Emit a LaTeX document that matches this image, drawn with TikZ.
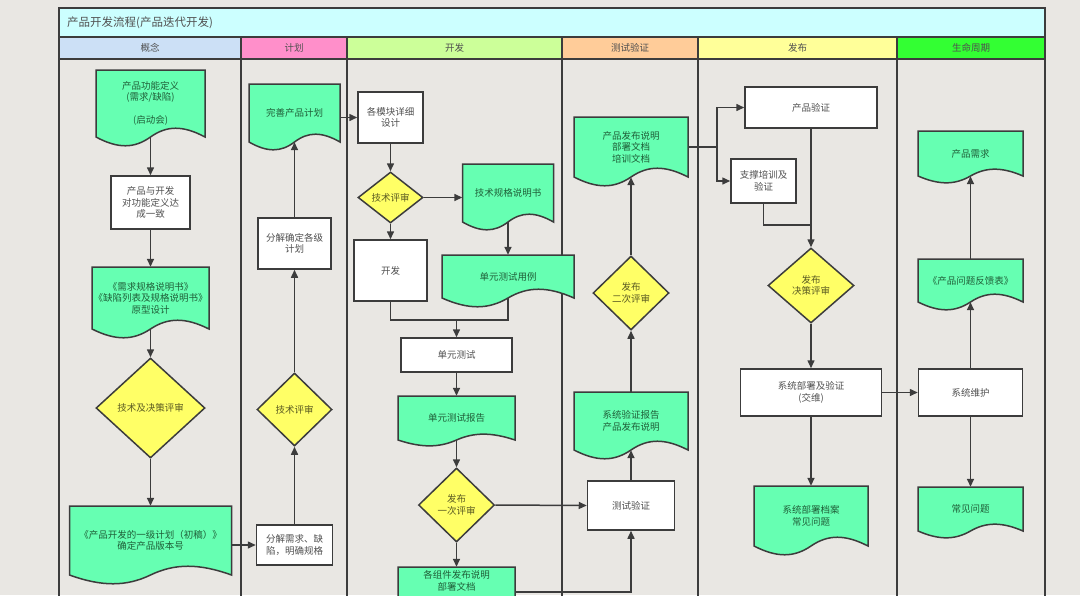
\documentclass[tikz,border=0pt]{standalone}
\usepackage{fontspec}
\setmainfont{Noto Sans CJK SC}
\usetikzlibrary{arrows.meta,shapes.geometric,calc}
\definecolor{bgc}{HTML}{E9E7E3}
\definecolor{linec}{HTML}{3C3C3C}
\definecolor{docfillc}{HTML}{66FFB2}
\definecolor{dmfillc}{HTML}{FFFF66}
\definecolor{doctxt}{HTML}{1F5F38}
\definecolor{boxtxt}{HTML}{505050}
\definecolor{dmtxt}{HTML}{5A5A22}
\definecolor{titlec}{HTML}{CCFFFF}
\definecolor{hblue}{HTML}{CCE0F6}
\definecolor{hpink}{HTML}{FF8FCA}
\definecolor{hlgreen}{HTML}{CCFF99}
\definecolor{horange}{HTML}{FFCC99}
\definecolor{hyellow}{HTML}{FFFF99}
\definecolor{hgreen}{HTML}{33FF33}
\tikzset{
  lane/.style={draw=linec, line width=1.6pt},
  hdr/.style={draw=linec, line width=1.5pt, inner sep=0pt, font=\fontsize{9.5}{11}\selectfont, text=boxtxt},
  boxn/.style={draw=linec, fill=white, line width=1.5pt, inner sep=0pt, align=center, text=boxtxt, font=\fontsize{9.5}{11.5}\selectfont},
  dmn/.style={diamond, draw=linec, fill=dmfillc, line width=1.5pt, inner sep=0pt, align=center, text=dmtxt, font=\fontsize{9.5}{11.5}\selectfont},
  docsty/.style={draw=linec, fill=docfillc, line width=1.5pt},
  doctext/.style={inner sep=0pt, align=center, text=doctxt, font=\fontsize{9.5}{11.5}\selectfont},
  conn/.style={draw=linec, line width=1.5pt},
  arr/.style={conn, -{Triangle[length=8pt,width=7pt]}}
}
\newcommand\docnode[7]{%
  \pgfmathsetmacro\dxa{#2-#4/2}\pgfmathsetmacro\dxb{#2+#4/2}%
  \pgfmathsetmacro\dya{#3-#5/2}\pgfmathsetmacro\dyb{#3+#5/2}%
  \pgfmathsetmacro\dwq{#4}%
  \draw[docsty] (\dxa,\dya) -- (\dxb,\dya) -- (\dxb,\dyb)
    .. controls ({\dxb-0.2*\dwq},{\dyb-1.3*#6}) and ({\dxb-0.35*\dwq},{\dyb-1.3*#6}) .. (#2,\dyb)
    .. controls ({\dxa+0.35*\dwq},{\dyb+1.3*#6}) and ({\dxa+0.2*\dwq},{\dyb+1.3*#6}) .. (\dxa,\dyb) -- cycle;
  \node[doctext, minimum width=#4, minimum height=#5] (#1) at (#2,#3) {#7};}
\begin{document}
\begin{tikzpicture}[x=1pt,y=-1pt]
\useasboundingbox (0,0) rectangle (1080,595);
\clip (0,0) rectangle (1080,595);
\fill[bgc] (0,0) rectangle (1080,595);
% frame and title
\draw[lane] (59,8) rectangle (1045,620);
\node[draw=linec, line width=1.5pt, fill=titlec, minimum width=986, minimum height=29, inner sep=0pt] (title) at (552,22.5) {};
\node[anchor=west, inner sep=0pt, font=\fontsize{11.5}{13}\selectfont, text=boxtxt] (titletext) at (67,22.5) {产品开发流程(产品迭代开发)};
% headers
\node[hdr, fill=hblue, minimum width=182, minimum height=22] (h1) at (150,48) {概念};
\node[hdr, fill=hpink, minimum width=106, minimum height=22] (h2) at (294,48) {计划};
\node[hdr, fill=hlgreen, minimum width=215, minimum height=22] (h3) at (454.5,48) {开发};
\node[hdr, fill=horange, minimum width=136, minimum height=22] (h4) at (630,48) {测试验证};
\node[hdr, fill=hyellow, minimum width=199, minimum height=22] (h5) at (797.5,48) {发布};
\node[hdr, fill=hgreen, minimum width=148, minimum height=22] (h6) at (971,48) {生命周期};
% lane lines
\foreach \lx in {59,241,347,562,698,897,1045} {\draw[lane] (\lx,59) -- (\lx,620);}
% 概念
\docnode{d1}{150.5}{103.5}{109}{67}{9}{产品功能定义\\(需求/缺陷)\\[11.5pt](启动会)}
\node[boxn, minimum width=79, minimum height=53] (b1) at (150.5,202.5) {产品与开发\\对功能定义达\\成一致};
\docnode{d2}{150.5}{298}{117}{62}{9}{《需求规格说明书》\\《缺陷列表及规格说明书》\\原型设计}
\node[dmn, minimum width=109, minimum height=100] (dm1) at (150.5,408) {技术及决策评审};
\docnode{d3}{150.5}{540.5}{162}{69}{9}{《产品开发的一级计划（初稿）》\\确定产品版本号}
% 计划
\docnode{d4}{294.5}{113}{91}{58}{8}{完善产品计划}
\node[boxn, minimum width=73, minimum height=51] (b2) at (294.5,243.5) {分解确定各级\\计划};
\node[dmn, minimum width=75, minimum height=73] (dm2) at (294.5,409.5) {技术评审};
\node[boxn, minimum width=76, minimum height=40] (b3) at (294.5,545) {分解需求、缺\\陷，明确规格};
% 开发
\node[boxn, minimum width=65, minimum height=51] (b4) at (390.5,117.5) {各模块详细\\设计};
\node[dmn, minimum width=65, minimum height=51] (dm3) at (390.5,197.5) {技术评审};
\docnode{d5}{508}{193}{91}{58}{8}{技术规格说明书}
\node[boxn, minimum width=73, minimum height=61] (b5) at (390.5,270.5) {开发};
\docnode{d6}{508}{276.5}{132}{43}{9}{单元测试用例}
\node[boxn, minimum width=111, minimum height=34] (b6) at (456.5,355) {单元测试};
\docnode{d7}{456.5}{418}{117}{44}{6}{单元测试报告}
\node[dmn, minimum width=76, minimum height=74] (dm4) at (456.5,505) {发布\\一次评审};
\docnode{d8}{456.5}{592}{117}{50}{8}{各组件发布说明\\部署文档\\[12pt]}
% 测试验证
\docnode{d9}{631}{147}{114}{60}{9}{产品发布说明\\部署文档\\培训文档}
\node[dmn, minimum width=76, minimum height=74] (dm5) at (631,293) {发布\\二次评审};
\docnode{d10}{631}{421}{114}{58}{9}{系统验证报告\\产品发布说明}
\node[boxn, minimum width=87, minimum height=49] (b7) at (631,505.5) {测试验证};
% 发布
\node[boxn, minimum width=132, minimum height=41] (b8) at (811,107.5) {产品验证};
\node[boxn, minimum width=65, minimum height=44] (b9) at (763.5,181) {支撑培训及\\验证};
\node[dmn, minimum width=86, minimum height=75] (dm6) at (811,285.5) {发布\\决策评审};
\node[boxn, minimum width=141, minimum height=47] (b10) at (811,392.5) {系统部署及验证\\(交维)};
\docnode{d11}{811}{516}{114}{60}{9}{系统部署档案\\常见问题}
% 生命周期
\docnode{d12}{970.5}{153.5}{105}{45}{7}{产品需求}
\docnode{d13}{970.5}{280.5}{105}{43}{8}{《产品问题反馈表》}
\node[boxn, minimum width=104, minimum height=47] (b11) at (970.5,392.5) {系统维护};
\docnode{d14}{970.5}{509}{105}{44}{7}{常见问题}
% connectors
\draw[arr] (d1.south) -- (b1.north);
\draw[arr] (b1.south) -- (d2.north);
\draw[arr] (d2.south) -- (dm1.north);
\draw[arr] (dm1.south) -- (d3.north);
\draw[arr] (b3.west -| d3.east) -- (b3.west);
\draw[arr] (b3.north) -- (dm2.south);
\draw[arr] (dm2.north) -- (b2.south);
\draw[arr] (b2.north) -- (d4.south);
\draw[arr] (b4.west -| d4.east) -- (b4.west);
\draw[arr] (b4.south) -- (dm3.north);
\draw[arr] (dm3.east) -- (dm3.east -| d5.west);
\draw[arr] (dm3.south) -- (b5.north);
\draw[arr] (d5.south) -- (d6.north);
\coordinate (m1) at (456.5,320);
\draw[conn] (b5.south) |- (m1);
\draw[conn] (d6.south) |- (m1);
\draw[arr] (m1) -- (b6.north);
\draw[arr] (b6.south) -- (d7.north);
\draw[arr] (d7.south) -- (dm4.north);
\draw[arr] (dm4.south) -- (d8.north);
\draw[arr] (dm4.east) -- (b7.west);
\draw[arr] (d8.east) -| (b7.south);
\draw[arr] (b7.north) -- (d10.south);
\draw[arr] (d10.north) -- (dm5.south);
\draw[arr] (dm5.north) -- (d9.south);
\draw[conn] (d9.east) -- ++(29,0) coordinate (j1);
\draw[arr] (j1) |- (b8.west);
\draw[arr] (j1) |- (b9.west);
\draw[arr] (b8.south) -- (dm6.north);
\coordinate (j2) at (811,225);
\draw[conn] (b9.south) |- (j2);
\draw[arr] (dm6.south) -- (b10.north);
\draw[arr] (b10.south) -- (d11.north);
\draw[arr] (b10.east) -- (b11.west);
\draw[arr] (b11.north) -- (d13.south);
\draw[arr] (d13.north) -- (d12.south);
\draw[arr] (b11.south) -- (d14.north);
\end{tikzpicture}
\end{document}
